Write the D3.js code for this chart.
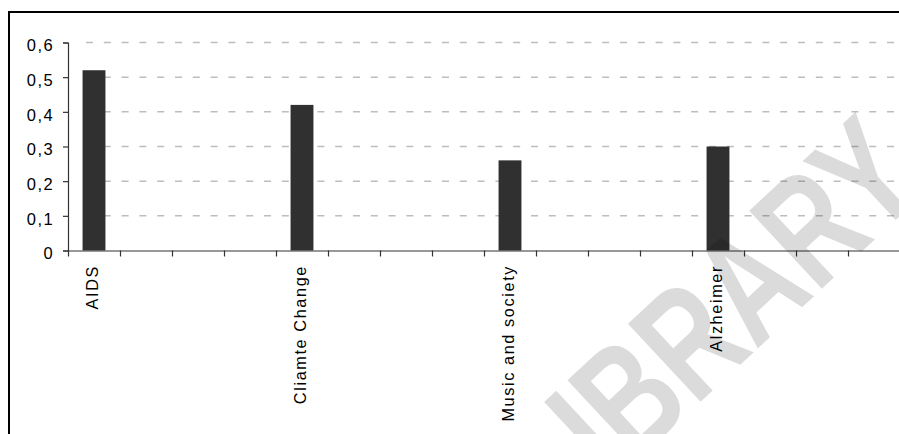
<!DOCTYPE html>
<html>
<head>
<meta charset="utf-8">
<script src="https://cdn.jsdelivr.net/npm/d3@7"></script>
<style>
  html, body { margin: 0; padding: 0; background: #fff; }
  svg { display: block; }
  text { font-family: "Liberation Sans", Arial, sans-serif; }
</style>
</head>
<body>
<svg id="chart" width="899" height="434"></svg>
<script>
// Sixteen category slots; topics sit in every fourth slot, the rest are blank.
const categories = ["AIDS", "", "", "", "Cliamte Change", "", "", "", "Music and society", "", "", "", "Alzheimer", "", "", ""];
const values = [0.52, null, null, null, 0.42, null, null, null, 0.26, null, null, null, 0.30, null, null, null];
const yTickValues = [0, 0.1, 0.2, 0.3, 0.4, 0.5, 0.6];
const yTickLabels = ["0", "0,1", "0,2", "0,3", "0,4", "0,5", "0,6"];
const watermark = "LIBRARY";

const svg = d3.select("#chart");
const plotLeft = 68, plotRight = 900, plotTop = 42.5, plotBottom = 250.5;

const x = d3.scaleBand()
  .domain(d3.range(categories.length))
  .range([plotLeft, plotRight])
  .paddingInner(0.56)
  .paddingOuter(0.28);

// Slot boundaries for the category-axis tick marks
const xb = d3.scaleLinear().domain([0, categories.length]).range([plotLeft, plotRight]);

const y = d3.scaleLinear().domain([0, 0.6]).range([plotBottom, plotTop]);

// Outer frame
svg.append("rect")
  .attr("x", 9).attr("y", 12)
  .attr("width", 900).attr("height", 440)
  .attr("fill", "none").attr("stroke", "#000").attr("stroke-width", 2);

// Dashed horizontal gridlines
svg.append("g")
  .selectAll("line")
  .data(yTickValues.filter(v => v > 0))
  .join("line")
  .attr("x1", plotLeft + 18).attr("x2", plotRight)
  .attr("y1", d => y(d)).attr("y2", d => y(d))
  .attr("stroke", "#bdbdbd")
  .attr("stroke-width", 1.5)
  .attr("stroke-dasharray", "7 10.8");

// Bars
svg.append("g")
  .selectAll("rect")
  .data(values.map((v, i) => ({ i, v })).filter(d => d.v !== null))
  .join("rect")
  .attr("x", d => x(d.i))
  .attr("width", x.bandwidth())
  .attr("y", d => y(d.v))
  .attr("height", d => y(0) - y(d.v))
  .attr("fill", "#303030");

// Value axis
const yAxis = svg.append("g")
  .attr("transform", `translate(${plotLeft},0)`)
  .call(d3.axisLeft(y)
    .tickValues(yTickValues)
    .tickFormat((d, i) => yTickLabels[i])
    .tickSize(5)
    .tickPadding(9));
yAxis.select(".domain").attr("stroke", "#333").attr("stroke-width", 1.2);
yAxis.selectAll(".tick line").attr("stroke", "#333").attr("stroke-width", 1.2);
yAxis.selectAll(".tick text")
  .attr("fill", "#000")
  .attr("dy", "0.5em")
  .style("font-size", "16.5px")
  .style("letter-spacing", "1.4px");

// Category axis with ticks on slot boundaries
const xAxis = svg.append("g")
  .attr("transform", `translate(0,${plotBottom})`)
  .call(d3.axisBottom(xb)
    .tickValues(d3.range(0, categories.length + 1))
    .tickFormat("")
    .tickSizeInner(6)
    .tickSizeOuter(0));
xAxis.select(".domain").attr("stroke", "#333").attr("stroke-width", 1.2);
xAxis.selectAll(".tick line").attr("stroke", "#333").attr("stroke-width", 1.2);

// Rotated category labels
svg.append("g")
  .selectAll("text")
  .data(categories.map((c, i) => ({ c, i })).filter(d => d.c !== ""))
  .join("text")
  .attr("transform", d => `translate(${x(d.i) + x.bandwidth() / 2 - 1.5},265) rotate(-90)`)
  .attr("text-anchor", "end")
  .attr("dy", "0.35em")
  .attr("fill", "#000")
  .style("font-size", "16.3px")
  .style("letter-spacing", "1.6px")
  .text(d => d.c);

// Faint diagonal watermark, running off the lower edge
svg.append("text")
  .attr("transform", "translate(560,533) rotate(-43) scale(0.74,1)")
  .attr("text-anchor", "start")
  .attr("fill", "#000")
  .attr("fill-opacity", 0.14)
  .style("font-size", "155px")
  .style("font-weight", "bold")
  .text(watermark);
</script>
</body>
</html>
